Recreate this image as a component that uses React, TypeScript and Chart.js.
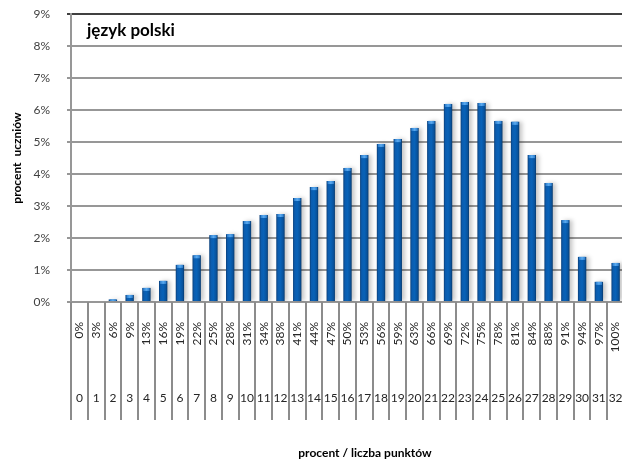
import React, { useEffect, useRef } from 'react';
import { Chart, registerables } from 'chart.js';

Chart.register(...registerables);

const chartTitle = 'język polski';
const yAxisTitle = 'procent  uczniów';
const xAxisTitle = 'procent / liczba punktów';

const pointLabels = ['0','1','2','3','4','5','6','7','8','9','10','11','12','13','14','15','16','17','18','19','20','21','22','23','24','25','26','27','28','29','30','31','32'];
const percentLabels = ['0%','3%','6%','9%','13%','16%','19%','22%','25%','28%','31%','34%','38%','41%','44%','47%','50%','53%','56%','59%','63%','66%','69%','72%','75%','78%','81%','84%','88%','91%','94%','97%','100%'];
const studentShare = [0,0,0.08,0.22,0.44,0.66,1.16,1.46,2.09,2.12,2.53,2.72,2.75,3.25,3.59,3.78,4.19,4.59,4.94,5.09,5.44,5.66,6.19,6.25,6.22,5.66,5.63,4.59,3.72,2.56,1.41,0.63,1.22];

const FONT = 'Lato, "Open Sans", sans-serif';

const labelsPlugin = {
  id: 'customLabels',
  beforeDatasetsDraw(chart: any) {
    const ctx = chart.ctx;
    ctx.save();
    ctx.shadowColor = 'rgba(0,0,0,0.22)';
    ctx.shadowOffsetX = 3;
    ctx.shadowOffsetY = 0;
    ctx.shadowBlur = 4;
  },
  afterDatasetsDraw(chart: any) {
    const ctx = chart.ctx;
    ctx.restore();
    const meta = chart.getDatasetMeta(0);
    ctx.save();
    meta.data.forEach((el: any) => {
      const h = el.base - el.y;
      if (!(h >= 1) || !isFinite(el.x)) return;
      const w = el.width;
      const capH = Math.min(3, h);
      const g = ctx.createLinearGradient(el.x - w / 2, 0, el.x + w / 2, 0);
      g.addColorStop(0, '#1f6fc0');
      g.addColorStop(0.5, '#5aaaf0');
      g.addColorStop(1, '#1f6fc0');
      ctx.fillStyle = g;
      ctx.fillRect(el.x - w / 2 + 1, el.y, w - 2, capH);
    });
    ctx.restore();
  },
  afterDraw(chart: any) {
    const ctx = chart.ctx;
    const xs = chart.scales.x;
    const area = chart.chartArea;
    const bottom = area.bottom;
    const step = xs.getPixelForValue(1) - xs.getPixelForValue(0);
    ctx.save();
    ctx.strokeStyle = '#8c8c8c';
    ctx.lineWidth = 2;
    for (let i = 0; i <= pointLabels.length; i++) {
      const x = Math.round(xs.getPixelForValue(0) - step / 2 + i * step);
      ctx.beginPath();
      ctx.moveTo(x, bottom);
      ctx.lineTo(x, bottom + 118);
      ctx.stroke();
    }
    ctx.fillStyle = '#262626';
    ctx.font = '12px ' + FONT;
    percentLabels.forEach((lab, i) => {
      const cx = xs.getPixelForValue(i);
      ctx.save();
      ctx.translate(cx, bottom + 20);
      ctx.rotate(-Math.PI / 2);
      ctx.textAlign = 'right';
      ctx.textBaseline = 'middle';
      ctx.fillText(lab, 0, 0);
      ctx.restore();
    });
    ctx.textAlign = 'center';
    ctx.textBaseline = 'middle';
    pointLabels.forEach((lab, i) => {
      ctx.fillText(lab, xs.getPixelForValue(i), bottom + 96);
    });
    ctx.fillStyle = '#000';
    ctx.font = 'bold 12px ' + FONT;
    ctx.fillText(xAxisTitle, 365, 453);
    ctx.save();
    ctx.translate(17, (area.top + area.bottom) / 2);
    ctx.rotate(-Math.PI / 2);
    ctx.fillText(yAxisTitle, 0, 0);
    ctx.restore();
    ctx.font = 'bold 17px ' + FONT;
    ctx.textAlign = 'left';
    ctx.fillText(chartTitle, 87, 31);
    ctx.restore();
  },
};

export default function App() {
  const ref = useRef<HTMLCanvasElement>(null);
  useEffect(() => {
    document.body.style.overflow = 'hidden';
    const canvas = ref.current!;
    const chart = new Chart(canvas, {
      type: 'bar',
      data: {
        labels: pointLabels,
        datasets: [
          {
            data: studentShare,
            backgroundColor: (c: any) => {
              const xs = c.chart.scales.x;
              if (!xs || c.dataIndex === undefined) return '#0b5aa5';
              const cx = xs.getPixelForValue(c.dataIndex);
              if (!isFinite(cx)) return '#0b5aa5';
              const g = c.chart.ctx.createLinearGradient(cx - 4.5, 0, cx + 4.5, 0);
              g.addColorStop(0, '#0a3a70');
              g.addColorStop(0.22, '#0b5cae');
              g.addColorStop(0.5, '#0862b8');
              g.addColorStop(0.8, '#08529c');
              g.addColorStop(1, '#073463');
              return g;
            },
            borderWidth: 0,
            barPercentage: 0.5,
            categoryPercentage: 1,
          },
        ],
      },
      options: {
        responsive: false,
        animation: false,
        events: [],
        layout: { padding: { left: 0, right: 2, top: 14, bottom: 158 } },
        plugins: { legend: { display: false }, tooltip: { enabled: false }, title: { display: false } },
        scales: {
          x: {
            ticks: { display: false },
            grid: { display: false, drawTicks: false },
            border: { display: false },
            afterFit: (s: any) => { s.height = 0; s.paddingLeft = 0; s.paddingRight = 0; },
          },
          y: {
            min: 0,
            max: 9,
            afterFit: (s: any) => { s.width = 71; s.paddingTop = 0; s.paddingBottom = 0; },
            ticks: {
              stepSize: 1,
              padding: 17,
              color: '#404040',
              font: { family: FONT, size: 12 },
              callback: (v: any) => v + '%',
            },
            grid: {
              color: (c: any) => (c.tick && c.tick.value === 9 ? '#404040' : '#979797'),
              lineWidth: 2,
              tickLength: 4,
            },
            border: { display: true, color: '#979797', width: 2 },
          },
        },
      },
      plugins: [labelsPlugin],
    });
    return () => chart.destroy();
  }, []);
  return (
    <div style={{ position: 'absolute', left: 0, top: 0, width: 626, height: 460, background: '#fff' }}>
      <canvas ref={ref} width={626} height={460} style={{ width: 626, height: 460, display: 'block' }} />
    </div>
  );
}
